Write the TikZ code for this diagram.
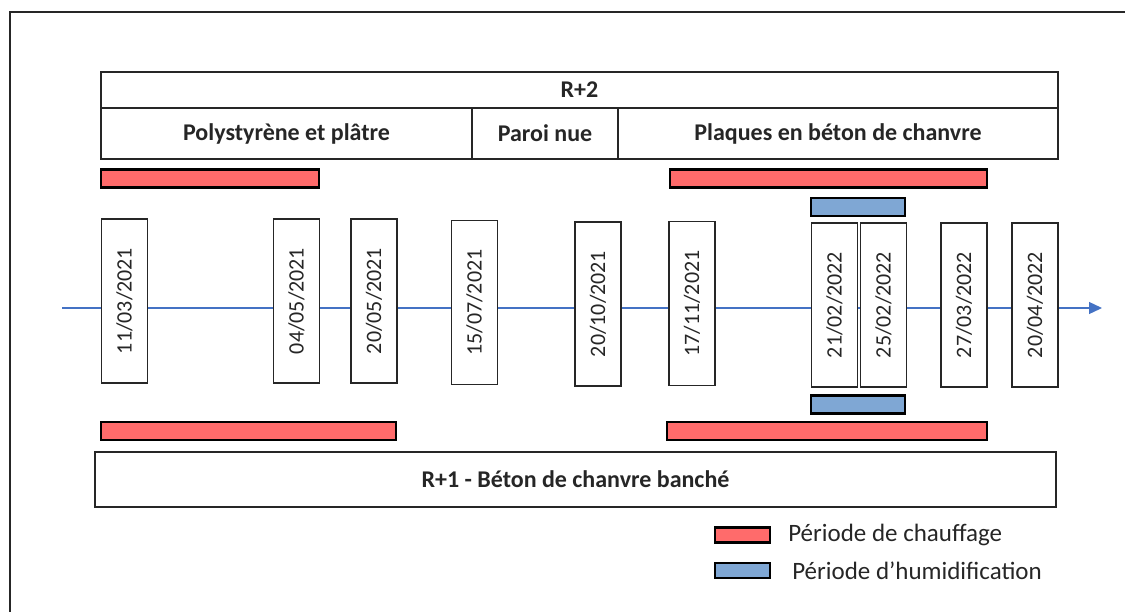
\documentclass[tikz,border=0pt]{standalone}
\usepackage{fontspec}
\setmainfont{Carlito}
\usetikzlibrary{arrows.meta,positioning}
\definecolor{tlInk}{HTML}{262626}
\definecolor{tlLine}{HTML}{4472C4}
\definecolor{tlHeat}{HTML}{FF6B6B}
\definecolor{tlWet}{HTML}{7FA7D4}
\tikzset{
  cell/.style     ={draw=tlInk,line width=1.3pt,fill=white,inner sep=0pt,outer sep=0pt,
                    anchor=north west,font=\fontsize{24}{28}\selectfont\bfseries,text=tlInk},
  datebox/.style  ={draw=tlInk,line width=1.3pt,fill=white,rotate=90,inner sep=0pt,
                    minimum width=164pt,minimum height=46pt,text=tlInk,
                    font=\fontsize{22}{26}\selectfont},
  bar/.style      ={draw=black,line width=2.4pt,inner sep=0pt,minimum height=18pt},
  heatbar/.style  ={bar,fill=tlHeat},
  wetbar/.style   ={bar,fill=tlWet},
  keybox/.style   ={draw=black,line width=2.2pt,inner sep=0pt,minimum width=55pt,minimum height=15pt},
  axis/.style     ={-{Triangle[length=13pt,width=12pt]},tlLine,line width=1.3pt},
  lgd/.style      ={anchor=west,text=tlInk,inner sep=0pt,font=\fontsize{25}{29}\selectfont},
}
\begin{document}
\begin{tikzpicture}[x=1pt,y=-1pt,font=\fontsize{24}{28}\selectfont]
\useasboundingbox (0,0) rectangle (1125,611);
\clip (0,0) rectangle (1125,611);
\draw[tlInk,line width=2pt] (10,12) rectangle (1140,630);

% R+2
\node[cell,minimum width=957pt,minimum height=36pt] (r2) at (101,72) {R+2};
\node[cell,minimum width=371pt,minimum height=51pt] (poly) at (101,108) {Polystyrène et plâtre};
\node[cell,minimum width=146pt,minimum height=51pt] (paroi) at (poly.north east) {Paroi nue};
\node[cell,minimum width=440pt,minimum height=51pt] (plaq) at (paroi.north east) {Plaques en béton de chanvre};

\node[heatbar,minimum width=218pt] (h1) at (210,178.5) {};
\node[heatbar,minimum width=317pt] (h2) at (828.5,178.5) {};
\node[wetbar,minimum width=94pt] (w1) at (858,207) {};

% time line
\coordinate (t0) at (62,308);
\coordinate (t1) at (1102,308);
\draw[axis] (t0) -- (t1);

\foreach \x/\y/\d [count=\i] in {124.5/301/{11/03/2021}, 296.5/301/{04/05/2021}, 374/301/{20/05/2021},
    474.5/302.5/{15/07/2021}, 598/304/{20/10/2021}, 692/303.5/{17/11/2021}, 834.5/305/{21/02/2022},
    883.5/305/{25/02/2022}, 964/305/{27/03/2022}, 1035/305/{20/04/2022}}
  \node[datebox] (d\i) at (\x,\y) {\d};

\node[wetbar,minimum width=94pt] (w2) at (858,404.5) {};
\node[heatbar,minimum width=295pt] (h3) at (248.5,431) {};
\node[heatbar,minimum width=320pt] (h4) at (827,431) {};

% R+1
\node[cell,minimum width=961pt,minimum height=55pt] (r1) at (95,452) {R+1 - Béton de chanvre banché};

% legend
\node[keybox,fill=tlHeat] (kh) at (742.5,535) {};
\node[keybox,fill=tlWet] (kw) at (742.5,570.5) {};
\node[lgd,right=17pt of kh] (lh) {Période de chauffage};
\node[lgd,right=21pt of kw] (lw) {Période d’humidification};
\end{tikzpicture}
\end{document}
